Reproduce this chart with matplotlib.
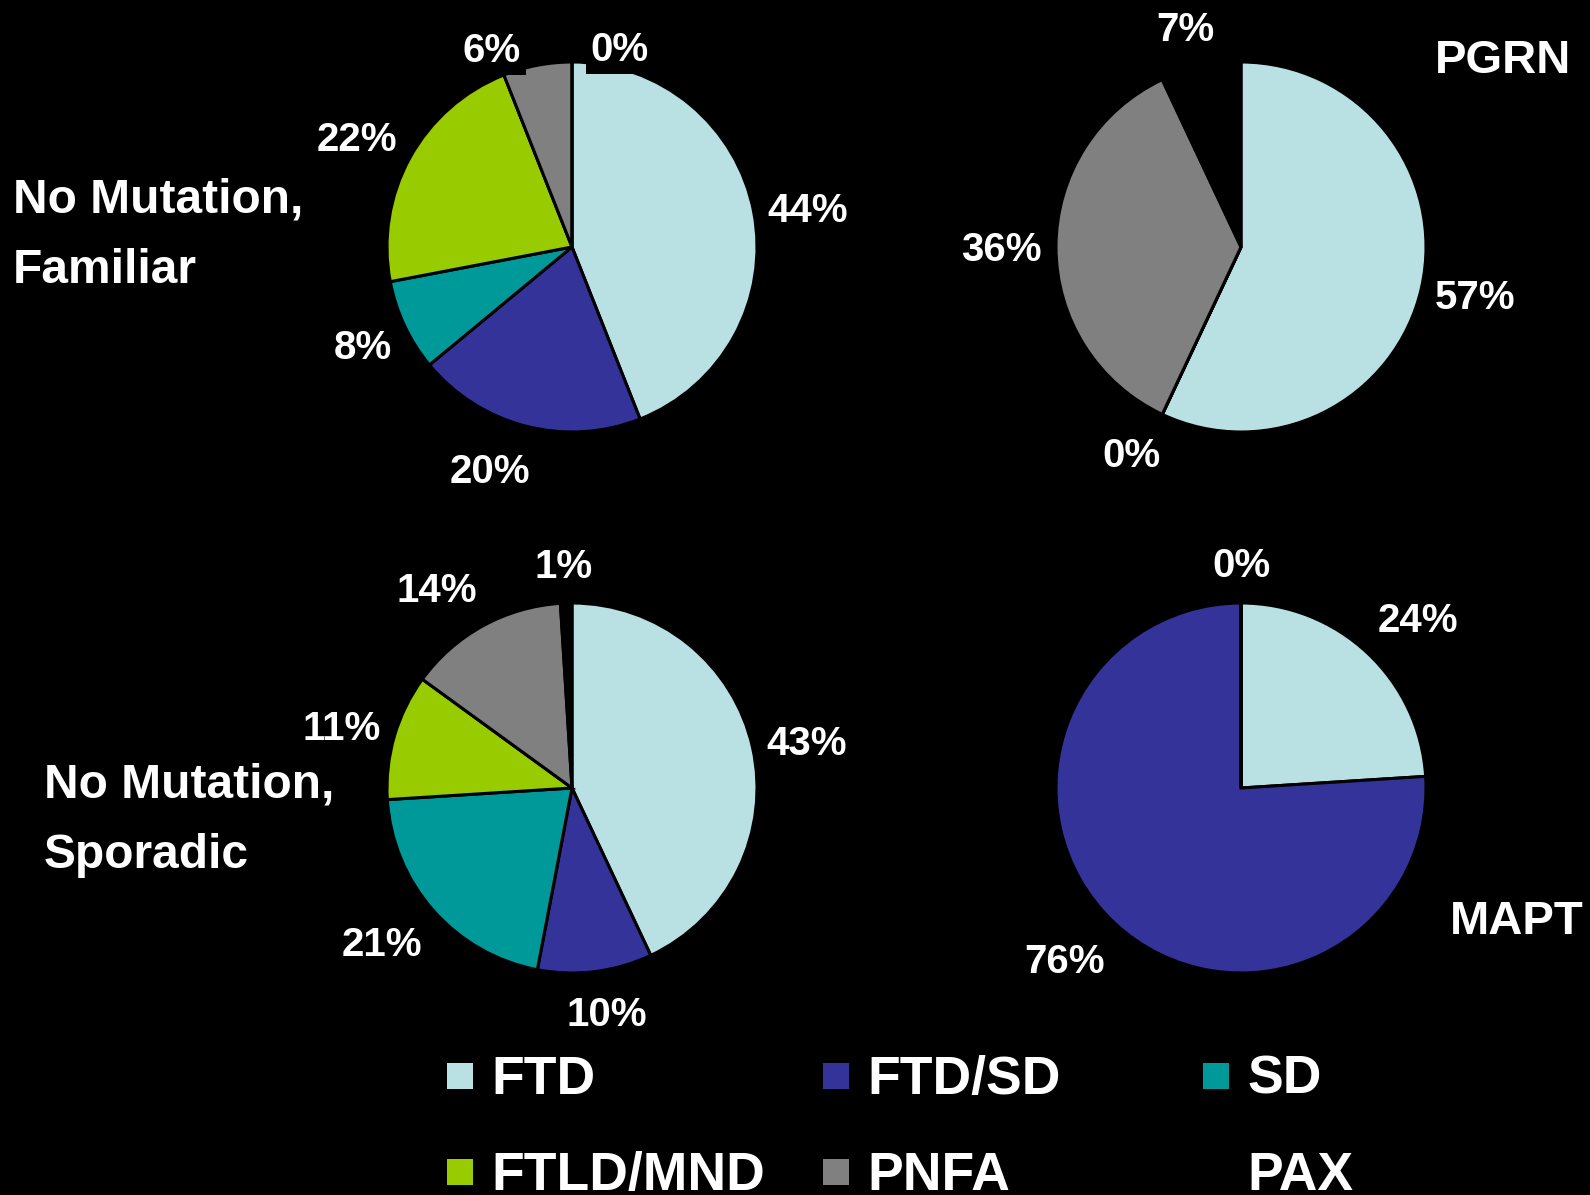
import matplotlib
matplotlib.use("Agg")
import matplotlib.pyplot as plt
from matplotlib.patches import Rectangle
import numpy as np

plt.rcParams["font.family"] = ["Liberation Sans", "DejaVu Sans"]
plt.rcParams["font.weight"] = "bold"

# Diagnosis categories and their colours
categories = ["FTD", "FTD/SD", "SD", "FTLD/MND", "PNFA", "PAX"]
colors = ["#B9E0E3", "#333399", "#009999", "#99CC00", "#808080", "#000000"]

# Percentage of cases per group
familiar = [44, 20, 8, 22, 6, 0]
pgrn = [57, 0, 0, 0, 36, 7]
sporadic = [43, 10, 21, 11, 14, 1]
mapt = [24, 76, 0, 0, 0, 0]

group_titles = ["No Mutation,\nFamiliar", "PGRN", "No Mutation,\nSporadic", "MAPT"]

W, H, DPI = 1590, 1195, 100
fig = plt.figure(figsize=(W / DPI, H / DPI), dpi=DPI, facecolor="black")
renderer = fig.canvas.get_renderer()

R = 185            # pie radius in pixels
LABEL_FS = 29      # percentage label size (pt)
CAP = 0.716 * LABEL_FS * DPI / 72.0   # cap height in pixels
GAP = 14           # gap between pie rim and label box
HALF_H = 26        # half height of a label box


def fx(x):
    return x / W


def fy(y):
    return 1 - y / H


def draw_pie(values, cx, cy, nudges=None):
    nudges = nudges or {}
    ax = fig.add_axes([fx(cx - R), fy(cy + R), 2 * R / W, 2 * R / H])
    ax.set_facecolor("black")
    ax.pie(values, colors=colors, startangle=90, counterclock=False, radius=1,
           wedgeprops=dict(edgecolor="black", linewidth=2.2))
    ax.set_xlim(-1, 1)
    ax.set_ylim(-1, 1)
    ax.set_aspect("equal")
    ax.axis("off")
    total = float(sum(values))
    cum = 0.0
    for i, v in enumerate(values):
        frac_mid = (cum + v / 2.0) / total
        cum += v
        theta = np.deg2rad(90 - 360 * frac_mid)
        dx, dy = np.cos(theta), np.sin(theta)
        t = ax.text(0, 0, f"{v}%", color="white", fontsize=LABEL_FS,
                    fontweight="bold", ha="center", va="baseline",
                    clip_on=False, zorder=5,
                    bbox=dict(boxstyle="square,pad=0.12", facecolor="black",
                              edgecolor="none"))
        half_w = t.get_window_extent(renderer).width / 2.0
        # label box sits just outside the rim, pushed out by its own size
        push_x = np.clip(2 * abs(dx), 0, 1) * np.sign(dx)
        push_y = np.clip(1.6 * abs(dy) - 0.2, 0, 1) * np.sign(dy)
        ox = (R + GAP) * dx + half_w * push_x
        oy = (R + GAP) * dy + HALF_H * push_y
        nx, ny = nudges.get(categories[i], (0, 0))
        ox += nx
        oy -= ny
        t.set_position((ox / R, (oy - CAP / 2.0) / R))
    return ax


# label shifts (pixels) used where neighbouring labels would collide
draw_pie(familiar, 572, 247,
         nudges={"FTD/SD": (-13, 3), "PNFA": (-32, 22), "PAX": (48, 25)})
draw_pie(pgrn, 1241, 247)
draw_pie(sporadic, 572, 788)
draw_pie(mapt, 1241, 788)

# group titles
fig.text(fx(13), fy(235), group_titles[0], color="white", fontsize=34.5,
         fontweight="bold", ha="left", va="center", linespacing=1.73)
fig.text(fx(1435), fy(61), group_titles[1], color="white", fontsize=34,
         fontweight="bold", ha="left", va="center")
fig.text(fx(44), fy(820), group_titles[2], color="white", fontsize=34.5,
         fontweight="bold", ha="left", va="center", linespacing=1.73)
fig.text(fx(1450), fy(922), group_titles[3], color="white", fontsize=34,
         fontweight="bold", ha="left", va="center")

# legend: three columns, two rows
col_x = [447, 823, 1203]
row_base = [1094, 1190]
box = 26
for i, (name, col) in enumerate(zip(categories, colors)):
    x0 = col_x[i % 3]
    base = row_base[i // 3]
    mid = base - 18
    fig.patches.append(Rectangle((fx(x0), fy(mid + box / 2)), box / W, box / H,
                                 transform=fig.transFigure, facecolor=col,
                                 edgecolor="none"))
    fig.text(fx(x0 + box + 18), fy(base), name, color="white", fontsize=38.5,
             fontweight="bold", ha="left", va="baseline")

fig.savefig("out.png", dpi=DPI, facecolor="black")
